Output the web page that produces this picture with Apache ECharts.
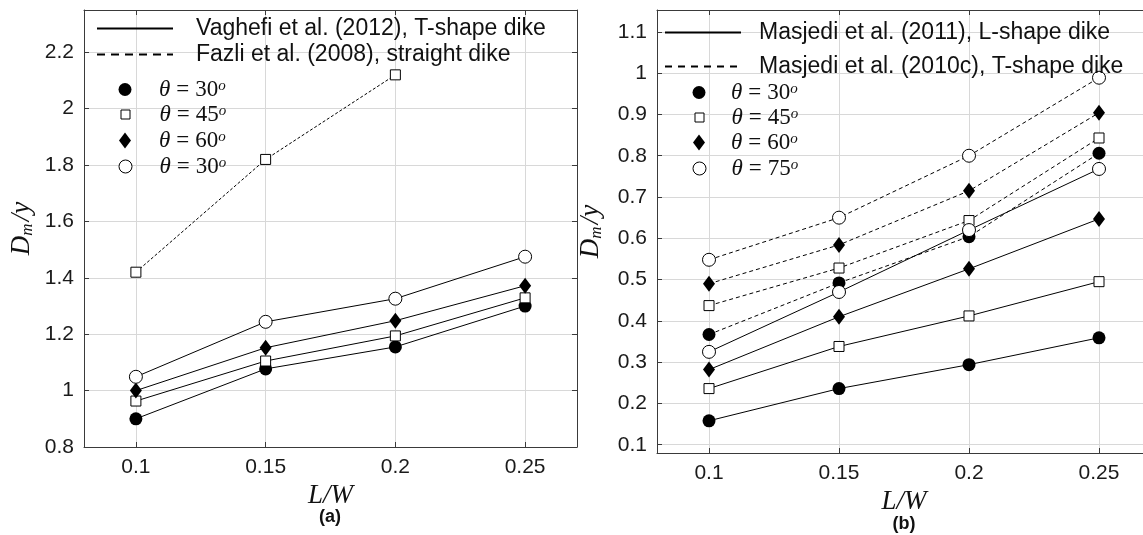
<!DOCTYPE html>
<html><head><meta charset="utf-8">
<script src="https://cdn.jsdelivr.net/npm/echarts@6/dist/echarts.min.js"></script>
<style>html,body{margin:0;padding:0;background:#fff}#c{width:1143px;height:535px}</style>
</head><body><div id="c"></div>
<script>
// ---------- data ----------
const lwValues = [0.1, 0.15, 0.2, 0.25];
const xTickLabels = [0.1, 0.15, 0.2, 0.25];
const yTickLabelsA = [0.8, 1, 1.2, 1.4, 1.6, 1.8, 2, 2.2];
const yTickLabelsB = [0.1, 0.2, 0.3, 0.4, 0.5, 0.6, 0.7, 0.8, 0.9, 1, 1.1];

// panel (a): Vaghefi et al. (2012), T-shape dike (solid)
const vaghefi30 = [0.90, 1.077, 1.155, 1.30];
const vaghefi45 = [0.963, 1.105, 1.194, 1.329];
const vaghefi60 = [1.00, 1.152, 1.248, 1.372];
const vaghefi30b = [1.049, 1.244, 1.326, 1.475];
// panel (a): Fazli et al. (2008), straight dike (dashed)
const fazliLW = [0.1, 0.15, 0.2];
const fazli45 = [1.42, 1.82, 2.12];

// panel (b): Masjedi et al. (2011), L-shape dike (solid)
const lshape30 = [0.158, 0.236, 0.294, 0.359];
const lshape45 = [0.236, 0.338, 0.412, 0.495];
const lshape60 = [0.282, 0.410, 0.526, 0.647];
const lshape75 = [0.325, 0.470, 0.620, 0.768];
// panel (b): Masjedi et al. (2010c), T-shape dike (dashed)
const tshape30 = [0.367, 0.492, 0.604, 0.806];
const tshape45 = [0.437, 0.528, 0.643, 0.843];
const tshape60 = [0.490, 0.584, 0.715, 0.904];
const tshape75 = [0.548, 0.650, 0.800, 0.989];

const legendLinesA = ['Vaghefi et al. (2012), T-shape dike', 'Fazli et al. (2008), straight dike'];
const legendLinesB = ['Masjedi et al. (2011), L-shape dike', 'Masjedi et al. (2010c), T-shape dike'];
const legendAnglesA = ['30', '45', '60', '30'];
const legendAnglesB = ['30', '45', '60', '75'];

// ---------- styles ----------
const AXC = '#3a3a3a';
const GRIDC = '#d8d8d8';
const SERIF = '"Liberation Serif", "DejaVu Serif", serif';
const SANS = '"Liberation Sans", Arial, sans-serif';

const markers = {
  fc: {symbol: 'circle', symbolSize: 13, itemStyle: {color: '#000', borderWidth: 0}},
  sq: {symbol: 'rect', symbolSize: 10, itemStyle: {color: '#fff', borderColor: '#000', borderWidth: 1}},
  di: {symbol: 'diamond', symbolSize: [12, 16], itemStyle: {color: '#000', borderWidth: 0}},
  oc: {symbol: 'circle', symbolSize: 13, itemStyle: {color: '#fff', borderColor: '#000', borderWidth: 1}}
};

function pts(xs, ys) { return ys.map((y, i) => [xs[i], y]); }

function dataSeries(name, axis, xs, ys, mk, dash) {
  return Object.assign({
    type: 'line', name: name, xAxisIndex: axis, yAxisIndex: axis,
    data: pts(xs, ys), showSymbol: true, animation: false, z: 3,
    lineStyle: {color: '#000', width: 1, type: dash || 'solid'},
    emphasis: {disabled: true}
  }, JSON.parse(JSON.stringify(mk)));
}

function dummy(name, axis, dash) {
  return {type: 'line', name: name, xAxisIndex: axis, yAxisIndex: axis, data: [],
    symbol: 'none', itemStyle: {color: '#000'},
    lineStyle: {color: '#000', width: 1.4, type: dash || 'solid'}};
}

function xAx(grid, pos, min, max, labels, main) {
  return {
    type: 'value', gridIndex: grid, position: pos, min: min, max: max,
    axisLine: {show: true, onZero: false, lineStyle: {color: AXC, width: 1}},
    axisTick: {show: true, inside: true, length: 5, customValues: labels, lineStyle: {color: AXC}},
    axisLabel: {show: main, customValues: labels, margin: 10, color: '#1a1a1a',
      fontFamily: SANS, fontSize: 21, formatter: v => String(v)},
    splitLine: {show: main, lineStyle: {color: GRIDC, width: 1}},
    name: main ? '{i|L/W}' : '', nameLocation: 'middle', nameGap: 32,
    nameTextStyle: {rich: {i: {fontFamily: SERIF, fontStyle: 'italic', fontSize: 27, lineHeight: 28, color: '#111'}}}
  };
}
function yAx(grid, pos, min, max, labels, main, gap) {
  return {
    type: 'value', gridIndex: grid, position: pos, min: min, max: max,
    axisLine: {show: true, onZero: false, lineStyle: {color: AXC, width: 1}},
    axisTick: {show: true, inside: true, length: 5, customValues: labels, lineStyle: {color: AXC}},
    axisLabel: {show: main, customValues: labels, margin: 10, color: '#1a1a1a',
      fontFamily: SANS, fontSize: 21, formatter: v => String(v)},
    splitLine: {show: main, lineStyle: {color: GRIDC, width: 1}},
    name: main ? '{i|D}{m|m}{i|/y}' : '', nameLocation: 'middle', nameGap: gap, nameRotate: 90,
    nameTextStyle: {rich: {
      i: {fontFamily: SERIF, fontStyle: 'italic', fontSize: 27, lineHeight: 28, color: '#111'},
      m: {fontFamily: SERIF, fontStyle: 'italic', fontSize: 17, lineHeight: 12, verticalAlign: 'bottom', color: '#111', padding: [0, 2, 0, 0]}
    }}
  };
}

const richText = {
  p: {fontFamily: SANS, fontSize: 23, lineHeight: 22, color: '#111'},
  t: {fontFamily: SERIF, fontStyle: 'italic', fontSize: 23, lineHeight: 22, color: '#111'},
  e: {fontFamily: SERIF, fontSize: 23, lineHeight: 22, color: '#111', padding: [0, 6, 0, 6]},
  n: {fontFamily: SERIF, fontSize: 23, lineHeight: 22, color: '#111'},
  s: {fontFamily: SERIF, fontStyle: 'italic', fontSize: 15, lineHeight: 12, verticalAlign: 'top', color: '#111'}
};

function lineLegend(name, left, rowY, textX) {
  const w = 76, h = 14;
  const gap = textX - (left + w + 5);
  return {
    show: true, orient: 'vertical', left: left, top: rowY - 11, padding: 0,
    itemWidth: w, itemHeight: h, selectedMode: false,
    data: [{name: name, itemStyle: {opacity: 0}}],
    formatter: '{g| }{p|{name}}',
    textStyle: {rich: Object.assign({g: {width: gap}}, richText)}
  };
}
function angleLegend(name, angle, cx, rowY, textX, icon, w, h, style) {
  const left = cx - w / 2;
  const gap = textX - (left + w + 5);
  return {
    show: true, orient: 'vertical', left: left, top: rowY - 11, padding: 0,
    itemWidth: w, itemHeight: h, selectedMode: false,
    data: [{name: name, icon: icon, itemStyle: style}],
    formatter: '{g| }{t|θ}{e|=}{n|' + angle + '}{s|o}',
    textStyle: {rich: Object.assign({g: {width: gap}}, richText)}
  };
}

const filledStyle = {color: '#000', borderWidth: 0};
const openStyle = {color: '#fff', borderColor: '#000', borderWidth: 1};

const iconDefs = [
  ['circle', 13, 13, filledStyle],
  ['rect', 9, 9, openStyle],
  ['diamond', 12, 16, filledStyle],
  ['circle', 13, 13, openStyle]
];

const legends = [
  lineLegend(legendLinesA[0], 96, 28, 195),
  lineLegend(legendLinesA[1], 96, 54, 195),
  lineLegend(legendLinesB[0], 664, 32, 758),
  lineLegend(legendLinesB[1], 664, 66, 758)
];
const rowsA = [89, 114, 140, 166];
const rowsB = [92, 117, 142, 168];
const series = [];
legendAnglesA.forEach((a, i) => {
  const nm = 'a_theta_' + i;
  series.push(dummy(nm, 0));
  legends.push(angleLegend(nm, a, 125, rowsA[i], 159, iconDefs[i][0], iconDefs[i][1], iconDefs[i][2], iconDefs[i][3]));
});
legendAnglesB.forEach((a, i) => {
  const nm = 'b_theta_' + i;
  series.push(dummy(nm, 2));
  legends.push(angleLegend(nm, a, 699, rowsB[i], 731, iconDefs[i][0], iconDefs[i][1], iconDefs[i][2], iconDefs[i][3]));
});
series.push(dummy(legendLinesA[0], 0, 'solid'));
series.push(dummy(legendLinesA[1], 0, [8, 6]));
series.push(dummy(legendLinesB[0], 2, 'solid'));
series.push(dummy(legendLinesB[1], 2, [7, 6]));

// panel (a)
series.push(dataSeries('Fazli 45', 0, fazliLW, fazli45, markers.sq, [3, 2]));
series.push(dataSeries('Vaghefi 30', 0, lwValues, vaghefi30, markers.fc));
series.push(dataSeries('Vaghefi 45', 0, lwValues, vaghefi45, markers.sq));
series.push(dataSeries('Vaghefi 60', 0, lwValues, vaghefi60, markers.di));
series.push(dataSeries('Vaghefi 30b', 0, lwValues, vaghefi30b, markers.oc));
// panel (b)
series.push(dataSeries('T 30', 2, lwValues, tshape30, markers.fc, [4, 3]));
series.push(dataSeries('T 45', 2, lwValues, tshape45, markers.sq, [4, 3]));
series.push(dataSeries('T 60', 2, lwValues, tshape60, markers.di, [4, 3]));
series.push(dataSeries('T 75', 2, lwValues, tshape75, markers.oc, [4, 3]));
series.push(dataSeries('L 30', 2, lwValues, lshape30, markers.fc));
series.push(dataSeries('L 45', 2, lwValues, lshape45, markers.sq));
series.push(dataSeries('L 60', 2, lwValues, lshape60, markers.di));
series.push(dataSeries('L 75', 2, lwValues, lshape75, markers.oc));

const option = {
  animation: false,
  backgroundColor: '#fff',
  grid: [
    {left: 84, top: 10, width: 493, height: 437, containLabel: false, outerBoundsMode: 'none'},
    {left: 657, top: 10, width: 494, height: 443, containLabel: false, outerBoundsMode: 'none'}
  ],
  xAxis: [
    xAx(0, 'bottom', 0.08, 0.27, xTickLabels, true),
    xAx(0, 'top', 0.08, 0.27, xTickLabels, false),
    xAx(1, 'bottom', 0.08, 0.27, xTickLabels, true),
    xAx(1, 'top', 0.08, 0.27, xTickLabels, false)
  ],
  yAxis: [
    yAx(0, 'left', 0.8, 2.35, yTickLabelsA, true, 48),
    yAx(0, 'right', 0.8, 2.35, yTickLabelsA, false, 0),
    yAx(1, 'left', 0.08, 1.153, yTickLabelsB, true, 52),
    yAx(1, 'right', 0.08, 1.153, yTickLabelsB, false, 0)
  ],
  legend: legends,
  series: series,
  graphic: [
    {type: 'text', x: 330, y: 517, style: {text: '(a)', align: 'center', verticalAlign: 'middle',
      textAlign: 'center', textVerticalAlign: 'middle',
      font: 'bold 18px "Liberation Sans", Arial, sans-serif', fill: '#111'}},
    {type: 'text', x: 904, y: 524, style: {text: '(b)', align: 'center', verticalAlign: 'middle',
      textAlign: 'center', textVerticalAlign: 'middle',
      font: 'bold 18px "Liberation Sans", Arial, sans-serif', fill: '#111'}}
  ]
};

const chart = echarts.init(document.getElementById('c'), null, {renderer: 'canvas'});
chart.setOption(option);
</script>
</body></html>
